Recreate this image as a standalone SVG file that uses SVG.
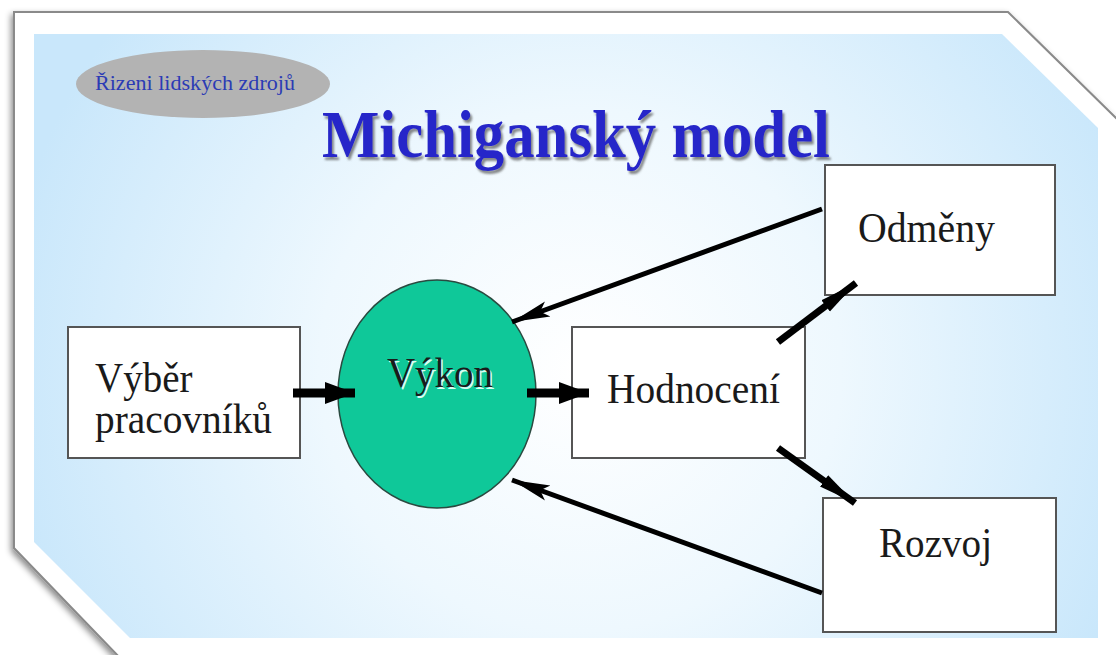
<svg xmlns="http://www.w3.org/2000/svg" width="1116" height="655" viewBox="0 0 1116 655">
  <defs>
    <radialGradient id="bg" gradientUnits="userSpaceOnUse" cx="580" cy="370" r="580">
      <stop offset="0" stop-color="#ffffff"/>
      <stop offset="0.45" stop-color="#eef8fe"/>
      <stop offset="1" stop-color="#c9e7fb"/>
    </radialGradient>
    <filter id="frameShadow" x="-5%" y="-5%" width="110%" height="110%">
      <feGaussianBlur in="SourceAlpha" stdDeviation="3"/>
      <feOffset dx="-2" dy="3" result="b"/>
      <feFlood flood-color="#000" flood-opacity="0.45"/>
      <feComposite in2="b" operator="in"/>
      <feMerge><feMergeNode/><feMergeNode in="SourceGraphic"/></feMerge>
    </filter>
    <filter id="titleShadow" x="-5%" y="-10%" width="110%" height="130%">
      <feOffset in="SourceAlpha" dx="2" dy="3" result="o"/>
      <feGaussianBlur in="o" stdDeviation="1.2" result="b"/>
      <feFlood flood-color="#555" flood-opacity="0.7"/>
      <feComposite in2="b" operator="in"/>
      <feMerge><feMergeNode/><feMergeNode in="SourceGraphic"/></feMerge>
    </filter>
    <marker id="headThick" markerUnits="userSpaceOnUse" markerWidth="32" markerHeight="26" refX="30" refY="13" orient="auto">
      <path d="M0,2 L30,13 L0,24 Z" fill="#000"/>
    </marker>
    <marker id="headSlim" markerUnits="userSpaceOnUse" markerWidth="40" markerHeight="20" refX="38" refY="10" orient="auto">
      <path d="M0,2 L38,10 L0,18 L8,10 Z" fill="#000"/>
    </marker>
    <marker id="headMid" markerUnits="userSpaceOnUse" markerWidth="40" markerHeight="20" refX="38" refY="10" orient="auto">
      <path d="M0,3 L38,10 L0,17 Z" fill="#000"/>
    </marker>
    <style>
      .box { fill: #ffffff; stroke: #555; stroke-width: 2; }
      .lbl { font-size: 39px; fill: #1a1a1a; }
      .conn { stroke: #000; fill: none; }
    </style>
  </defs>

  <rect width="1116" height="655" fill="#ffffff"/>

  <g id="frame">
    <polygon points="14,12 1008,12 1118,120 1118,660 122,660 14,548" fill="#ffffff" stroke="#8a8a8a" stroke-width="2" filter="url(#frameShadow)"/>
    <polygon points="34,34 1002,34 1098,128 1098,638 130,638 34,542" fill="url(#bg)"/>
  </g>

  <g id="header">
    <ellipse cx="203" cy="84" rx="127" ry="34" fill="#b3b3b3"/>
    <text font-family="'Liberation Serif', 'Times New Roman', serif" font-size="19" fill="#2b3bb5" textLength="200" lengthAdjust="spacingAndGlyphs" transform="translate(95,90) scale(1,1.1)">Řizeni lidských zdrojů</text>
    <text x="322" y="157" font-family="'Liberation Serif', 'Times New Roman', serif" font-weight="bold" font-size="68" fill="#2626c9" textLength="508" lengthAdjust="spacingAndGlyphs" filter="url(#titleShadow)">Michiganský model</text>
  </g>

  <g id="vyber">
    <rect class="box" x="68" y="327" width="232" height="131"/>
    <text class="lbl" font-family="'Liberation Serif', 'Times New Roman', serif" transform="translate(95,392) scale(1,1.1)">Výběr</text>
    <text class="lbl" font-family="'Liberation Serif', 'Times New Roman', serif" transform="translate(95,433) scale(1,1.1)" textLength="177" lengthAdjust="spacingAndGlyphs">pracovníků</text>
  </g>

  <g id="vykon">
    <ellipse cx="437" cy="394" rx="99" ry="114" fill="#0fc899" stroke="#2a4a40" stroke-width="1.5"/>
    <text class="lbl" font-family="'Liberation Serif', 'Times New Roman', serif" transform="translate(388.5,388.5) scale(1,1.1)" style="fill:#d8fff2" textLength="106" lengthAdjust="spacingAndGlyphs">Výkon</text>
    <text class="lbl" font-family="'Liberation Serif', 'Times New Roman', serif" transform="translate(387,387) scale(1,1.1)" textLength="106" lengthAdjust="spacingAndGlyphs">Výkon</text>
  </g>

  <g id="hodnoceni">
    <rect class="box" x="572" y="327" width="233" height="131"/>
    <text class="lbl" font-family="'Liberation Serif', 'Times New Roman', serif" transform="translate(607,403) scale(1,1.1)" textLength="173" lengthAdjust="spacingAndGlyphs">Hodnocení</text>
  </g>

  <g id="odmeny">
    <rect class="box" x="825" y="165" width="230" height="130"/>
    <text class="lbl" font-family="'Liberation Serif', 'Times New Roman', serif" transform="translate(858,242) scale(1,1.1)" textLength="137" lengthAdjust="spacingAndGlyphs">Odměny</text>
  </g>

  <g id="rozvoj">
    <rect class="box" x="823" y="498" width="233" height="134"/>
    <text class="lbl" font-family="'Liberation Serif', 'Times New Roman', serif" transform="translate(879,557) scale(1,1.1)" textLength="113" lengthAdjust="spacingAndGlyphs">Rozvoj</text>
  </g>

  <g id="connectors">
    <line class="conn" x1="293" y1="393" x2="355" y2="393" stroke-width="9" marker-end="url(#headThick)"/>
    <line class="conn" x1="527" y1="393" x2="589" y2="393" stroke-width="9" marker-end="url(#headThick)"/>
    <line class="conn" x1="822" y1="209" x2="512" y2="322" stroke-width="5" marker-end="url(#headSlim)"/>
    <line class="conn" x1="822" y1="593" x2="512" y2="480" stroke-width="5" marker-end="url(#headSlim)"/>
    <line class="conn" x1="778" y1="342" x2="856" y2="283" stroke-width="7" marker-end="url(#headMid)"/>
    <line class="conn" x1="778" y1="448" x2="855" y2="503" stroke-width="7" marker-end="url(#headMid)"/>
  </g>
</svg>
